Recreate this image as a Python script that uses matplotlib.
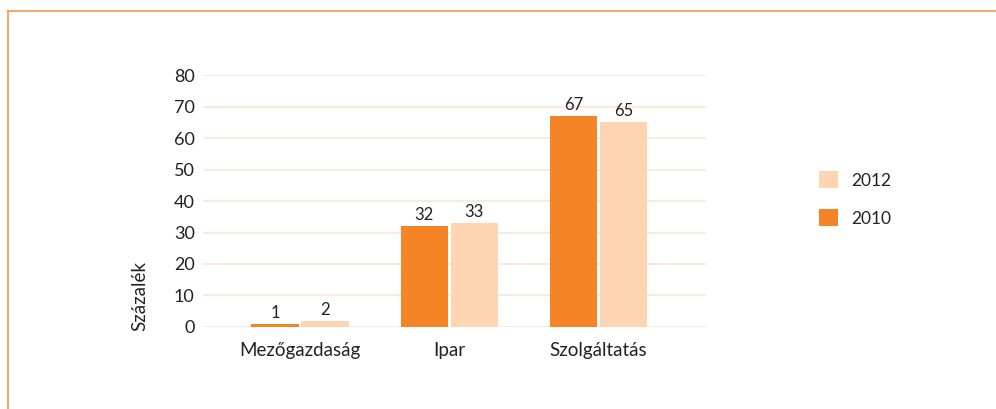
import numpy as np
from matplotlib import pyplot as plt
from matplotlib.lines import Line2D
from matplotlib.patches import Patch

categories = ['Mezőgazdaság', 'Ipar', 'Szolgáltatás']
values_2010 = [1, 32, 67]
values_2012 = [2, 33, 65]
series_labels = ['2010', '2012']
y_ticks = [0, 10, 20, 30, 40, 50, 60, 70, 80]

c2010 = '#f58426'
c2012 = '#fdd5b2'
grid_c = '#fde4d6'
frame_c = '#f5a050'
text_c = '#222222'

plt.rcParams['font.family'] = ['Lato', 'DejaVu Sans']

fig = plt.figure(figsize=(9.96, 4.09), dpi=100)
ax = fig.add_axes([0.2038, 0.2005, 0.505, 0.6161])

x = np.arange(len(categories))
w = 0.316
off = 0.168
b1 = ax.bar(x - off, values_2010, w, color=c2010, linewidth=0, zorder=3)
b2 = ax.bar(x + off, values_2012, w, color=c2012, linewidth=0, zorder=3)

for bars, vals in ((b1, values_2010), (b2, values_2012)):
    for rect, v in zip(bars, vals):
        ax.annotate(str(v), (rect.get_x() + rect.get_width() / 2, rect.get_height()),
                    xytext=(0, 2), textcoords='offset points',
                    ha='center', va='bottom', fontsize=12, color=text_c)

ax.set_xlim(-0.65, 2.72)
ax.set_ylim(0, 80)
ax.set_yticks(y_ticks)
ax.set_xticks(x)
ax.set_xticklabels(categories, fontsize=13.5, color=text_c)
ax.tick_params(axis='y', labelsize=13, colors=text_c, length=0, pad=6)
ax.tick_params(axis='x', length=0, pad=11)
ax.yaxis.grid(True, color=grid_c, linewidth=1.2, zorder=0)
ax.set_axisbelow(True)
for s in ax.spines.values():
    s.set_visible(False)

fig.text(140 / 996, 1 - 296 / 409, 'Százalék', rotation=90, ha='center', va='center',
         fontsize=13.5, color=text_c)

handles = [Patch(facecolor=c2012, edgecolor='none'), Patch(facecolor=c2010, edgecolor='none')]
fig.legend(handles, [series_labels[1], series_labels[0]], loc='center left',
           bbox_to_anchor=(803 / 996, 1 - 199 / 409), frameon=False,
           handlelength=1.1, handleheight=1.1, handletextpad=0.8, labelspacing=1.2,
           fontsize=12.5, labelcolor=text_c)

# orange frame lines (top and left)
fig.add_artist(Line2D([8 / 996, 1], [1 - 11 / 409, 1 - 11 / 409], color=frame_c, linewidth=1.3,
                      transform=fig.transFigure))
fig.add_artist(Line2D([8 / 996, 8 / 996], [0, 1 - 11 / 409], color=frame_c, linewidth=1.3,
                      transform=fig.transFigure))

fig.savefig('out.png', dpi=100)
